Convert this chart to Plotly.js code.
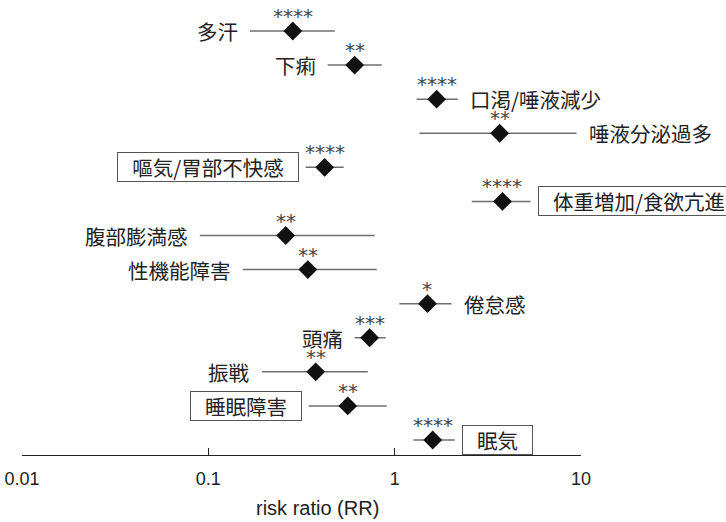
<!DOCTYPE html>
<html>
<head>
<meta charset="utf-8">
<script src="https://cdn.plot.ly/plotly-3.0.1.min.js"></script>
<style>
  html, body { margin: 0; padding: 0; background: #fff; }
  #chart { width: 726px; height: 522px; }
</style>
</head>
<body>
<div id="chart"></div>
<script>
// Adverse events: risk ratio with 95% CI (log scale), top to bottom
const symptoms = ['多汗', '下痢', '口渇/唾液減少', '唾液分泌過多', '嘔気/胃部不快感',
  '体重増加/食欲亢進', '腹部膨満感', '性機能障害', '倦怠感', '頭痛', '振戦', '睡眠障害', '眠気'];
const riskRatio = [0.284, 0.610, 1.68, 3.66, 0.421, 3.79, 0.260, 0.342, 1.50, 0.734, 0.377, 0.560, 1.60];
const ciLow     = [0.167, 0.437, 1.31, 1.36, 0.333, 2.59, 0.090, 0.153, 1.06, 0.610, 0.194, 0.346, 1.26];
const ciHigh    = [0.477, 0.852, 2.18, 9.46, 0.533, 5.36, 0.781, 0.801, 2.02, 0.895, 0.717, 0.906, 2.10];
const signif    = ['****', '**', '****', '**', '****', '****', '**', '**', '*', '***', '**', '**', '****'];
const labelSide = ['left', 'left', 'right', 'right', 'left', 'right', 'left', 'left', 'right', 'left', 'left', 'left', 'right'];
const boxed     = [false, false, false, false, true, true, false, false, false, false, false, true, true];
const tickVals  = [0.01, 0.1, 1, 10];
const tickText  = ['0.01', '0.1', '1', '10'];

const rows = symptoms.map((_, i) => i);
const jpFont = '"Noto Sans CJK JP", "Noto Sans CJK SC", sans-serif';
const numFont = '"Liberation Sans", Arial, sans-serif';
const labelSize = 20.5;

// measure label text so boxed labels get a roomy frame
const ctx = document.createElement('canvas').getContext('2d');
ctx.font = labelSize + 'px ' + jpFont;
const textWidth = s => ctx.measureText(s).width;

const trace = {
  type: 'scatter',
  mode: 'markers',
  x: riskRatio,
  y: rows,
  marker: { symbol: 'diamond', size: 14.5, color: '#111', line: { width: 0 } },
  error_x: {
    type: 'data',
    symmetric: false,
    array: riskRatio.map((v, i) => ciHigh[i] - v),
    arrayminus: riskRatio.map((v, i) => v - ciLow[i]),
    width: 0,
    thickness: 1.5,
    color: '#6e6e6e'
  },
  hoverinfo: 'skip'
};

const annotations = [];
rows.forEach(i => {
  // significance stars above each estimate
  annotations.push({
    x: Math.log10(riskRatio[i]), y: i, xref: 'x', yref: 'y',
    text: signif[i], showarrow: false, yshift: 15,
    font: { family: 'DejaVu Sans, sans-serif', size: 20, color: '#444' }
  });
  // symptom label beside its interval
  const left = labelSide[i] === 'left';
  const ann = {
    x: Math.log10(left ? ciLow[i] : ciHigh[i]), y: i, xref: 'x', yref: 'y',
    text: symptoms[i], showarrow: false,
    xanchor: left ? 'right' : 'left', yanchor: 'middle',
    xshift: (left ? -1 : 1) * (boxed[i] ? 7 : 10),
    font: { family: jpFont, size: labelSize, color: '#222' }
  };
  if (boxed[i]) {
    ann.bordercolor = '#555';
    ann.borderwidth = 1;
    ann.borderpad = 1;
    ann.width = Math.round(textWidth(symptoms[i]) + 26);
    ann.height = 26;
    ann.bgcolor = '#fff';
  }
  annotations.push(ann);
});

annotations.push({
  xref: 'paper', yref: 'paper', x: 0.528, y: -0.12,
  text: 'risk ratio (RR)', showarrow: false, yanchor: 'middle',
  font: { family: numFont, size: 20, color: '#222' }
});

const layout = {
  width: 726, height: 522,
  margin: { l: 22, r: 145, t: 12, b: 67 },
  paper_bgcolor: '#fff', plot_bgcolor: '#fff',
  showlegend: false,
  xaxis: {
    type: 'log', range: [-2, 1],
    tickvals: tickVals, ticktext: tickText,
    ticks: 'inside', ticklen: 7, tickwidth: 1, tickcolor: '#222',
    showline: true, linecolor: '#222', linewidth: 1,
    showgrid: false, zeroline: false,
    ticklabelstandoff: 7,
    tickfont: { family: numFont, size: 18, color: '#222' },
    fixedrange: true
  },
  yaxis: { visible: false, range: [12.44, -0.5575], fixedrange: true },
  shapes: [{
    type: 'line', xref: 'x', yref: 'paper', x0: 0, x1: 0, y0: 0, y1: 1,
    line: { color: '#8a8a8a', width: 2 }, layer: 'below'
  }],
  annotations: annotations
};

Plotly.newPlot('chart', [trace], layout, { displayModeBar: false, staticPlot: true });
</script>
</body>
</html>
